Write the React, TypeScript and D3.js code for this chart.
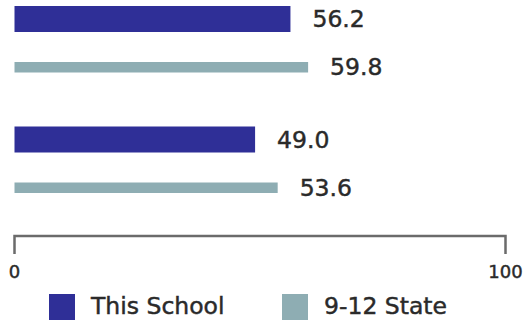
import React from "react";
import * as d3 from "d3";

const categories = ["Group A", "Group B"];
const schoolValues = [56.2, 49.0];
const stateValues = [59.8, 53.6];
const axisTicks = [0, 100];
const seriesNames = ["This School", "9-12 State"];
const seriesColors = ["#2f2f97", "#8eadb3"];

export default function App() {
  const W = 527;
  const H = 320;
  const x = d3.scaleLinear().domain([0, 100]).range([14.5, 505.5]);
  const y = d3
    .scaleBand<string>()
    .domain(categories)
    .range([6, 192.5])
    .paddingInner(54.5 / 120.5)
    .paddingOuter(0);
  const schoolH = 26;
  const stateOff = 56;
  const stateH = 10.5;
  const axisY = 236;
  const tickLen = 18;
  const font = "'DejaVu Sans', Verdana, sans-serif";
  const fmt = d3.format(".1f");
  const textStyle = { stroke: "#2a2a2a", strokeWidth: 0.45 };

  return (
    <svg
      width={W}
      height={H}
      style={{ position: "absolute", left: 0, top: 0, background: "#fff" }}
    >
      {categories.map((c, i) => {
        const y0 = y(c)!;
        const sv = schoolValues[i];
        const st = stateValues[i];
        return (
          <g key={c}>
            <rect
              x={x(0)}
              y={y0}
              width={x(sv) - x(0)}
              height={schoolH}
              fill={seriesColors[0]}
            />
            <text
              x={x(sv) + 22}
              y={y0 + schoolH / 2}
              dominantBaseline="central"
              fontFamily={font}
              fontSize={23.5}
              fill="#2a2a2a"
              style={textStyle}
            >
              {fmt(sv)}
            </text>
            <rect
              x={x(0)}
              y={y0 + stateOff}
              width={x(st) - x(0)}
              height={stateH}
              fill={seriesColors[1]}
            />
            <text
              x={x(st) + 22}
              y={y0 + stateOff + stateH / 2}
              dominantBaseline="central"
              fontFamily={font}
              fontSize={23.5}
              fill="#2a2a2a"
              style={textStyle}
            >
              {fmt(st)}
            </text>
          </g>
        );
      })}
      <path
        d={`M${x(0)},${axisY + tickLen}V${axisY}H${x(100)}V${axisY + tickLen}`}
        fill="none"
        stroke="#6b6b6b"
        strokeWidth={2.5}
      />
      {axisTicks.map((t) => (
        <text
          key={t}
          x={x(t)}
          y={278}
          textAnchor="middle"
          fontFamily={font}
          fontSize={18}
          fill="#2a2a2a"
          style={textStyle}
        >
          {t}
        </text>
      ))}
      {seriesNames.map((n, i) => {
        const sx = i === 0 ? 49 : 282;
        return (
          <g key={n}>
            <rect x={sx} y={294} width={26} height={26} fill={seriesColors[i]} />
            <text
              x={sx + 42}
              y={314}
              fontFamily={font}
              fontSize={23.5}
              fill="#2a2a2a"
              style={textStyle}
            >
              {n}
            </text>
          </g>
        );
      })}
    </svg>
  );
}
